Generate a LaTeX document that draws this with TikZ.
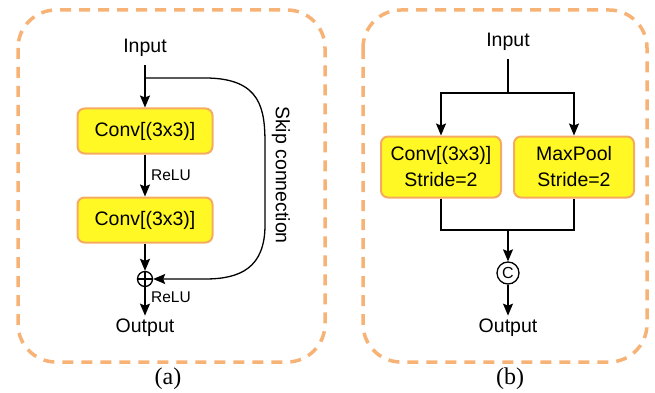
\documentclass[tikz,border=0pt]{standalone}
\usepackage{fontspec}
\setmainfont{Liberation Sans}
\newfontfamily\capfont{Liberation Serif}
\usepackage{tikz}
\usetikzlibrary{arrows.meta}
\definecolor{frameorange}{RGB}{247,178,118}
\definecolor{boxedge}{RGB}{246,172,96}
\definecolor{boxfill}{RGB}{255,248,36}
\tikzset{
  panel/.style={draw=frameorange,line width=3.5pt,dash pattern=on 11pt off 8pt,rounded corners=38pt},
  convbox/.style={draw=boxedge,fill=boxfill,line width=2pt,rounded corners=7pt,
    minimum width=135pt,minimum height=45pt,font=\fontsize{19.5}{24}\selectfont},
  stridebox/.style={convbox,minimum width=120pt,minimum height=61pt,align=center,
    font=\fontsize{19.5}{26}\selectfont},
  lbl/.style={font=\fontsize{19.5}{24}\selectfont},
  small/.style={font=\fontsize{15.5}{18}\selectfont},
  arr/.style={-{Stealth[length=12pt,width=10pt,inset=2pt]},line width=1.6pt},
  wire/.style={line width=1.3pt},
}

\begin{document}
\begin{tikzpicture}[x=1pt,y=-1pt]
\useasboundingbox (0,0) rectangle (655,393);

% (a) residual block
\draw[panel] (18,10) rectangle (325,362);
\node[lbl] (inA) at (145,48) {Input};
\coordinate (splitA) at (145,78);
\node[convbox] (convA1) at (145,131) {Conv[(3x3)]};
\node[convbox] (convA2) at (145,220) {Conv[(3x3)]};
\node[draw,circle,line width=1.3pt,minimum size=15pt,inner sep=0pt] (sumA) at (145,279) {};
\draw[line width=1.1pt] (sumA.north) -- (sumA.south) (sumA.west) -- (sumA.east);
\node[lbl] (outA) at (145,328) {Output};

\draw[arr,shorten <=5pt] (inA) -- (convA1);
\draw[arr] (convA1) -- node[small,right=2pt] {ReLU} (convA2);
\draw[arr] (convA2) -- (sumA);
\draw[arr] (sumA) -- node[small,right=2pt,pos=0.35] {ReLU} (outA);

% skip path round the two convs
\draw[arr,line width=1.3pt] (splitA) -- (205,78)
  .. controls (262,78) and (265,110) .. (265,145) -- (265,225)
  .. controls (265,268) and (240,279) .. (205,279) -- (sumA.east);
\node[lbl,rotate=-90] (skipA) at (281,175) {Skip connection};

\node[font=\capfont\fontsize{24}{28}\selectfont] (capA) at (168,379) {(a)};

% (b) reduction block
\draw[panel] (363,10) rectangle (647,362);
\node[lbl] (inB) at (508,42) {Input};
\coordinate (forkB) at (508,93);
\node[stridebox] (convB) at (441,167) {Conv[(3x3)]\\Stride=2};
\node[stridebox] (poolB) at (574,167) {MaxPool\\Stride=2};
\coordinate (joinB) at (508,230);
\node[draw,circle,line width=1.3pt,minimum size=22pt,inner sep=0pt,
  font=\fontsize{16}{18}\selectfont] (catB) at (508,273) {C};
\node[lbl] (outB) at (508,328) {Output};

\draw[wire,shorten <=5pt] (inB) -- (forkB);
\draw[arr,line width=1.3pt] (forkB) -| (convB.north);
\draw[arr,line width=1.3pt] (forkB) -| (poolB.north);
\draw[wire] (convB.south) |- (joinB) -| (poolB.south);
\draw[arr,line width=1.3pt] (joinB) -- (catB);
\draw[arr,line width=1.3pt] (catB) -- (outB);

\node[font=\capfont\fontsize{24}{28}\selectfont] (capB) at (510,379) {(b)};
\end{tikzpicture}
\end{document}
